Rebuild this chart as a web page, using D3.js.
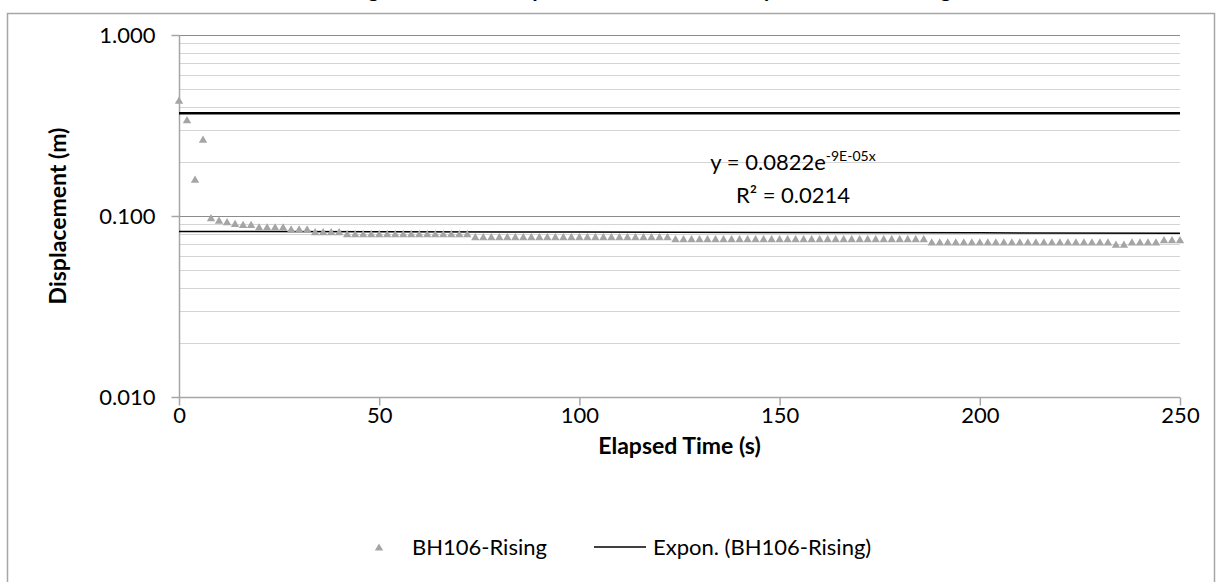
<!DOCTYPE html>
<html>
<head>
<meta charset="utf-8" />
<title></title>
<style>
  body { margin: 0; background: #fff; }
  text { font-family: Lato, "Open Sans", sans-serif; fill: #000; }
  .grid-minor line { stroke: #d4d4d4; stroke-width: 1px; }
  .grid-major line { stroke: #8c8c8c; stroke-width: 1px; }
</style>
</head>
<body>
<script src="https://d3js.org/d3.v7.min.js"></script>
<script>
  // elapsed time (s) and displacement (m), BH106 rising head
  var times = [0, 2, 4, 6, 8, 10, 12, 14, 16, 18, 20, 22, 24, 26, 28, 30, 32, 34, 36, 38,
    40, 42, 44, 46, 48, 50, 52, 54, 56, 58, 60, 62, 64, 66, 68, 70, 72, 74, 76, 78,
    80, 82, 84, 86, 88, 90, 92, 94, 96, 98, 100, 102, 104, 106, 108, 110, 112, 114, 116, 118,
    120, 122, 124, 126, 128, 130, 132, 134, 136, 138, 140, 142, 144, 146, 148, 150, 152, 154, 156, 158,
    160, 162, 164, 166, 168, 170, 172, 174, 176, 178, 180, 182, 184, 186, 188, 190, 192, 194, 196, 198,
    200, 202, 204, 206, 208, 210, 212, 214, 216, 218, 220, 222, 224, 226, 228, 230, 232, 234, 236, 238,
    240, 242, 244, 246, 248, 250];
  var displacement = [0.437, 0.341, 0.160, 0.266, 0.098, 0.095, 0.093, 0.091, 0.090, 0.090,
    0.087, 0.087, 0.087, 0.087, 0.085, 0.085, 0.085, 0.082, 0.082, 0.082,
    0.082, 0.080, 0.080, 0.080, 0.080, 0.080, 0.080, 0.080, 0.080, 0.080,
    0.080, 0.080, 0.080, 0.080, 0.080, 0.080, 0.080, 0.077, 0.077, 0.077,
    0.077, 0.077, 0.077, 0.077, 0.077, 0.077, 0.077, 0.077, 0.077, 0.077,
    0.077, 0.077, 0.077, 0.077, 0.077, 0.077, 0.077, 0.077, 0.077, 0.077,
    0.077, 0.077, 0.075, 0.075, 0.075, 0.075, 0.075, 0.075, 0.075, 0.075,
    0.075, 0.075, 0.075, 0.075, 0.075, 0.075, 0.075, 0.075, 0.075, 0.075,
    0.075, 0.075, 0.075, 0.075, 0.075, 0.075, 0.075, 0.075, 0.075, 0.075,
    0.075, 0.075, 0.075, 0.075, 0.072, 0.072, 0.072, 0.072, 0.072, 0.072,
    0.072, 0.072, 0.072, 0.072, 0.072, 0.072, 0.072, 0.072, 0.072, 0.072,
    0.072, 0.072, 0.072, 0.072, 0.072, 0.072, 0.072, 0.070, 0.070, 0.072,
    0.072, 0.072, 0.072, 0.074, 0.074, 0.074];

  // exponential trendline y = a * e^(b x)
  var trendA = 0.0822;
  var trendB = -9e-5;
  var trendLabel = "0.0822";
  var trendExp = "-9E-05x";
  var rSquared = "0.0214";

  // basic time lag reference line (0.37)
  var refLine = [0.37];

  var xTicks = [0, 50, 100, 150, 200, 250];
  var yTicks = [0.01, 0.1, 1];
  var yTickLabels = ["0.010", "0.100", "1.000"];

  var width = 1223, height = 582;
  var plotLeft = 179, plotRight = 1180, plotTop = 35, plotBottom = 397;

  var svg = d3.select("body").append("svg")
    .attr("width", width)
    .attr("height", height);

  // chart frame
  svg.append("path")
    .attr("d", "M7.5,582 L7.5,13.5 L1214.5,13.5 L1214.5,582")
    .attr("fill", "none")
    .attr("stroke", "#a6a6a6")
    .attr("stroke-width", 1.5);

  var x = d3.scaleLinear().domain([0, 250]).range([plotLeft, plotRight]);
  var y = d3.scaleLog().domain([0.01, 1]).range([plotBottom, plotTop]);

  // minor gridlines
  var minor = y.ticks().filter(function(d) {
    return yTicks.every(function(t) { return Math.abs(t - d) > 1e-9; });
  });
  svg.append("g").attr("class", "grid-minor")
    .selectAll("line").data(minor).enter().append("line")
    .attr("x1", plotLeft).attr("x2", plotRight)
    .attr("y1", function(d) { return Math.round(y(d)) + 0.5; })
    .attr("y2", function(d) { return Math.round(y(d)) + 0.5; });

  svg.append("g").attr("class", "grid-major")
    .selectAll("line").data(yTicks.slice(1)).enter().append("line")
    .attr("x1", plotLeft).attr("x2", plotRight)
    .attr("y1", function(d) { return Math.round(y(d)) + 0.5; })
    .attr("y2", function(d) { return Math.round(y(d)) + 0.5; });

  // axes
  var yAxis = svg.append("g")
    .attr("transform", "translate(" + (plotLeft + 0.5) + ",0)")
    .call(d3.axisLeft(y).tickValues(yTicks).tickSize(8).tickPadding(16)
      .tickFormat(function(d, i) { return yTickLabels[i]; }));
  var xAxis = svg.append("g")
    .attr("transform", "translate(0," + (plotBottom + 0.5) + ")")
    .call(d3.axisBottom(x).tickValues(xTicks).tickSize(8).tickPadding(2));

  [xAxis, yAxis].forEach(function(ax) {
    ax.select(".domain").attr("stroke", "#a6a6a6").attr("stroke-width", 1.5);
    ax.selectAll(".tick line").attr("stroke", "#a6a6a6").attr("stroke-width", 1.5);
    ax.selectAll(".tick text")
      .style("font-family", "Lato, sans-serif")
      .style("font-size", "22px")
      .attr("fill", "#000");
  });
  xAxis.select(".domain").attr("d", "M" + plotLeft + ",0H" + plotRight);
  yAxis.select(".domain").attr("d", "M0," + plotBottom + "V" + plotTop);

  // reference line
  svg.append("g").selectAll("line").data(refLine).enter().append("line")
    .attr("x1", plotLeft).attr("x2", plotRight)
    .attr("y1", function(d) { return y(d); })
    .attr("y2", function(d) { return y(d); })
    .attr("stroke", "#000")
    .attr("stroke-width", 2.5);

  // trendline drawn from the fitted equation at the tick times
  var trend = d3.line()
    .x(function(d) { return x(d); })
    .y(function(d) { return y(trendA * Math.exp(trendB * d)); });
  svg.append("path")
    .attr("d", trend(xTicks))
    .attr("fill", "none")
    .attr("stroke", "#000")
    .attr("stroke-width", 1.5);

  // data points
  var tri = "M0,-3.6L4.2,3.6L-4.2,3.6Z";
  svg.append("g").selectAll("path").data(times).enter().append("path")
    .attr("d", tri)
    .attr("fill", "#a5a5a5")
    .attr("transform", function(d, i) {
      return "translate(" + x(d) + "," + y(displacement[i]) + ")";
    });

  // equation label
  var eq = svg.append("text")
    .attr("x", 793).attr("y", 170)
    .attr("text-anchor", "middle")
    .style("font-size", "22px");
  eq.append("tspan").text("y = " + trendLabel + "e");
  eq.append("tspan").attr("dy", -9).style("font-size", "14px").text(trendExp);
  svg.append("text")
    .attr("x", 793).attr("y", 203)
    .attr("text-anchor", "middle")
    .style("font-size", "22px")
    .text("R\u00b2 = " + rSquared);

  // title (cut off at top)
  svg.append("text")
    .attr("x", 636).attr("y", -3.5)
    .attr("text-anchor", "middle")
    .style("font-size", "22px")
    .style("font-weight", "bold")
    .text("Rising Head Test - Displacement vs Time Analysis - BH106 Rising");

  // axis titles
  svg.append("text")
    .attr("x", (plotLeft + plotRight) / 2).attr("y", 454)
    .attr("text-anchor", "middle")
    .style("font-size", "23px")
    .style("font-weight", "bold")
    .text("Elapsed Time (s)");
  svg.append("text")
    .attr("transform", "translate(66," + ((plotTop + plotBottom) / 2) + ") rotate(-90)")
    .attr("text-anchor", "middle")
    .style("font-size", "23px")
    .style("font-weight", "bold")
    .text("Displacement (m)");

  // legend
  var legend = svg.append("g").attr("transform", "translate(0,547)");
  legend.append("path").attr("d", tri).attr("fill", "#a5a5a5")
    .attr("transform", "translate(379,0)");
  legend.append("text").attr("x", 412).attr("y", 8)
    .style("font-size", "22px").text("BH106-Rising");
  legend.append("line").attr("x1", 594).attr("x2", 646)
    .attr("y1", 0).attr("y2", 0)
    .attr("stroke", "#000").attr("stroke-width", 1.5);
  legend.append("text").attr("x", 653).attr("y", 8)
    .style("font-size", "22px").text("Expon. (BH106-Rising)");
</script>
</body>
</html>
